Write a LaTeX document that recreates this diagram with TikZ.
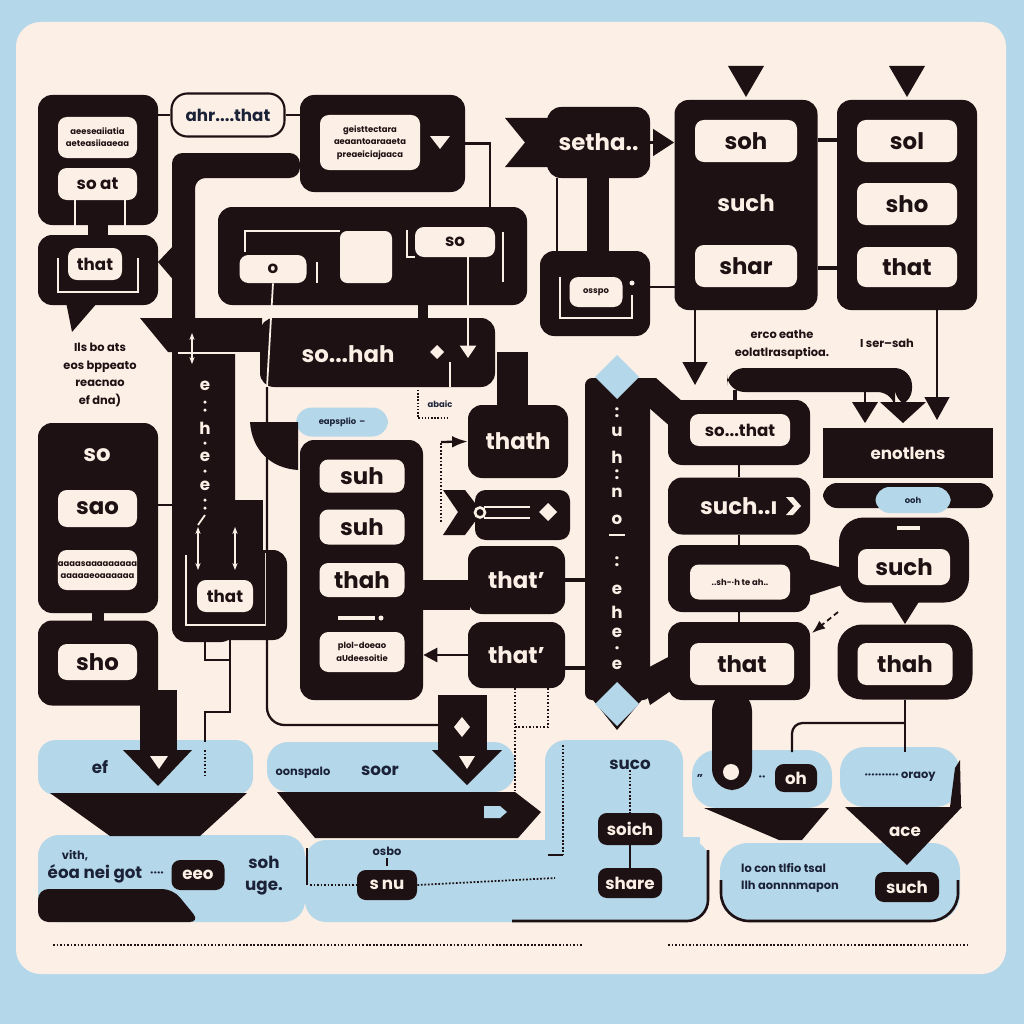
\documentclass[tikz,border=0pt]{standalone}
\usepackage{fontspec}
\setmainfont{Poppins}
\usetikzlibrary{arrows.meta,positioning,calc}
\definecolor{ink}{HTML}{1E1113}
\definecolor{paper}{HTML}{FCEFE6}
\definecolor{sky}{HTML}{B4D7E9}
\definecolor{navy}{HTML}{1B2238}
\newcommand\labbig{\bfseries\fontsize{13}{15}\selectfont}
\newcommand\labmid{\bfseries\fontsize{9.5}{11}\selectfont}
\newcommand\labsmall{\bfseries\fontsize{6.5}{10}\selectfont}
\newcommand\labtiny{\bfseries\fontsize{4.8}{7}\selectfont}

\begin{document}
\begin{tikzpicture}[x=0.02cm,y=-0.02cm,>=Latex,
    sz/.style 2 args={minimum width=#1*0.02cm,minimum height=#2*0.02cm},
    dbox/.style={fill=ink,rounded corners=8pt,inner sep=0pt},
    wbox/.style={fill=paper,rounded corners=5pt,inner sep=0pt,text=ink,font=\labbig},
    dpill/.style={fill=ink,rounded corners=5pt,inner sep=0pt,text=paper,font=\labmid},
    wire/.style={ink,line width=1.3pt},
    cwire/.style={paper,line width=1pt},
    dots/.style={ink,densely dotted,line width=1pt},
    btxt/.style={text=navy,font=\labsmall,inner sep=0pt}]
  \useasboundingbox (0,0) rectangle (1024,1024);
  % background
  \fill[sky] (0,0) rectangle (1024,1024);
  \fill[paper,rounded corners=14pt] (16,22) rectangle (1006,974);

  % blue panels (bottom)
  \fill[sky,rounded corners=10pt] (38,740) rectangle (253,795);
  \fill[sky,rounded corners=12pt] (38,835) rectangle (305,922);
  \fill[sky,rounded corners=12pt] (267,742) rectangle (515,792);
  \fill[sky,rounded corners=12pt] (305,840) rectangle (709,922);
  \fill[sky,rounded corners=12pt] (545,740) rectangle (683,922);
  \fill[sky] (545,837) rectangle (700,900);
  \fill[sky,rounded corners=14pt] (692,750) rectangle (832,808);
  \fill[sky,rounded corners=14pt] (840,747) rectangle (960,807);
  \fill[sky,rounded corners=16pt] (720,843) rectangle (960,922);
  \draw[ink,line width=1.5pt,rounded corners=12pt] (512,921) -- (708,921) -- (708,850);
  \draw[ink,line width=1.5pt,rounded corners=16pt] (721,880) -- (721,921) -- (958,921) -- (958,880);

  % top left group
  \node[dbox,sz={120}{130}] (boxA) at (98,160) {};
  \node[wbox,sz={79}{41},font=\labtiny,align=center] (noteA) at (97.5,137.5) {aeeseaiiatia\\aeteasiiaaeaa};
  \node[wbox,sz={79}{32},font=\labmid] (soAt) at (97.5,184) {so at};
  \fill[ink] (88,220) rectangle (108,240);
  \node[dbox,sz={120}{70}] (boxB) at (98,270) {};
  \node[wbox,sz={54}{32},font=\labmid] (thatB) at (95,264) {that};
  \draw[cwire] (58,258) -- (58,292) -- (138,292) -- (138,258);
  \draw[cwire] (75,200) -- (75,226);
  \draw[cwire] (125,200) -- (125,226);
  \fill[ink] (66,302) -- (98,302) -- (72,332) -- cycle;
  \fill[ink] (158,262) -- (176,243) -- (176,283) -- cycle;
  \node[font=\labsmall,align=center,text=ink] (capLeft) at (100,375) {Ils bo ats\\eos bppeato\\reacnao\\ef dna)};

  \node[draw=ink,line width=1.2pt,fill=paper,rounded corners=9pt,sz={113}{43},text=navy,font=\labmid] (ahrThat) at (228,115) {ahr....that};
  \node[dbox,sz={165}{97}] (boxC) at (382.5,143.5) {};
  \node[wbox,sz={100}{55},font=\labtiny,align=center] (noteC) at (370,142.5) {geisttectara\\aeaantoaraaeta\\preaeiciajaaca};
  \fill[paper] (430,136) -- (450,136) -- (440,149) -- cycle;
  \draw[wire] (ahrThat.west) -- (ahrThat.west -| boxA.east);
  \draw[wire] (ahrThat.east) -- (ahrThat.east -| boxC.west);
  \draw[wire] (boxC.east) -- (490,143.5) -- (490,210);

  % thick band and left column
  \fill[ink,rounded corners=6pt] (300,153) -- (172,153) -- (172,330) -- (195,330) -- (195,178) -- (300,178) -- cycle;
  \fill[ink] (140,318) -- (262,318) -- (262,352) -- (168,352) -- cycle;
  \node[dbox,sz={63}{322}] (colE) at (203.5,481) {};
  \fill[ink,rounded corners=8pt] (172,550) rectangle (287,640);
  \fill[ink] (235,500) rectangle (263,560);
  \draw[cwire] (178,353) -- (262,353);
  \foreach \ch/\yy in {e/386,h/428,e/457,e/486}
    \node[text=paper,font=\labmid,inner sep=0pt] at (205,\yy) {\ch};
  \foreach \yy in {402,410,443,471,500,508}
    \fill[paper] (205,\yy) circle[radius=0.035cm];
  \draw[cwire,<->,>={Stealth[length=4pt]}] (192,333) -- (192,364);
  \draw[cwire] (205,515) -- (198,525);
  \draw[cwire,<->,>={Stealth[length=4pt]}] (198,527) -- (198,570);
  \draw[cwire,<->,>={Stealth[length=4pt]}] (235,527) -- (235,570);
  \node[wbox,sz={56}{32},font=\labmid] (thatE) at (225,596) {that};
  \draw[cwire] (186,555) -- (186,625) -- (266,625) -- (266,553);
  \draw[wire] (205,640) -- (205,660) -- (230,660);
  \draw[wire] (230,640) -- (230,712) -- (205,712) -- (205,742);
  \draw[dots] (205,750) -- (205,778);

  % left middle group
  \node[dbox,sz={120}{190}] (boxD) at (98,518) {};
  \node[text=paper,font=\labbig,inner sep=0pt] (soD) at (97,455) {so};
  \node[wbox,sz={79}{37}] (saoD) at (97.5,508.5) {sao};
  \node[wbox,sz={79}{40},font=\labtiny,align=center] (noteD) at (97.5,570) {aaaasaaaaaaaaa\\aaaaaeoaaaaaa};
  \draw[wire] (158,505) -- (172,505);
  \fill[ink] (92,610) rectangle (104,625);
  \node[dbox,sz={120}{85}] (boxE) at (98,663) {};
  \node[wbox,sz={79}{36}] (shoE) at (97.5,662) {sho};
  \fill[ink] (140,690) rectangle (177,752);
  \fill[ink] (123,750) -- (192,750) -- (158,786) -- cycle;
  \fill[paper] (150,756) -- (168,756) -- (159,769) -- cycle;
  \node[btxt,font=\labmid] (efTxt) at (100,767) {ef};
  \fill[ink] (50,793) -- (247,793) -- (200,836) -- (110,836) -- cycle;
  \fill[ink,rounded corners=6pt] (38,889) -- (173,889) -- (200,922) -- (38,922) -- cycle;
  \node[btxt] (vith) at (75,856) {vith,};
  \node[btxt,font=\labmid] (eoaGot) at (95,874) {éoa nei got};
  \node[btxt] (dotsA) at (157,874) {····};
  \node[dpill,sz={53}{30}] (eeoPill) at (198,875) {eeo};
  \node[btxt,font=\labmid] (sohB) at (264,862) {soh};
  \node[btxt,font=\labmid] (ugeB) at (264,888) {uge.};

  % centre frame
  \node[dbox,sz={309}{98}] (frameF) at (372.5,256) {};
  \fill[paper,rounded corners=4pt] (340,231) rectangle (392,283);
  \draw[cwire] (245,252) -- (245,231) -- (340,231);
  \draw[cwire] (407,230) -- (407,257) -- (415,257);
  \draw[cwire] (503,232) -- (503,282);
  \node[wbox,sz={67}{28},font=\labmid] (oBox) at (273,269) {o};
  \draw[cwire] (317,262) -- (317,283);
  \node[wbox,sz={80}{30},font=\labmid] (soBox) at (455,242) {so};
  \fill[ink] (418,303) rectangle (428,320);
  \fill[ink,rounded corners=8pt] (260,318) rectangle (495,387);
  \fill[ink] (497,352) rectangle (528,410);
  \node[text=paper,font=\labbig,inner sep=0pt] (soHah) at (348,354) {so...hah};
  \fill[paper] (437,345) -- (444,352) -- (437,359) -- (430,352) -- cycle;
  \draw[cwire,line width=1.5pt,-{Triangle[length=7pt,width=9pt]}] (soBox.south -| 468,0) -- (468,358);
  \draw[cwire] (oBox.south) -- (267,387);
  \draw[wire,rounded corners=10pt] (267,387) -- (267,725) -- (438,725);
  \draw[cwire] (450,362) -- (450,387);
  \draw[dots,line width=0.8pt] (418,390) -- (418,418) -- (450,418);
  \node[btxt,font=\labtiny] (abaic) at (440,404) {abaic};

  \node[fill=sky,rounded corners=9pt,sz={92}{29},text=navy,font=\labtiny] (eapPill) at (342,422) {eapsplio \,–};
  \fill[ink] (250,422) -- (298,422) -- (298,470) .. controls (270,468) and (252,450) .. (250,422) -- cycle;

  % box G
  \node[dbox,sz={123}{260}] (boxG) at (361.5,570) {};
  \node[wbox,sz={85}{33}] (suhA) at (362,476) {suh};
  \node[wbox,sz={85}{35}] (suhB) at (362,527) {suh};
  \node[wbox,sz={85}{34}] (thahG) at (362,580) {thah};
  \draw[paper,line width=2pt] (338,618) -- (375,618);
  \fill[paper] (381,618) circle[radius=0.05cm];
  \node[wbox,sz={85}{40},font=\labtiny,align=center] (noteG) at (362,652) {plol-doeao\\aUdeesoitie};
  \fill[ink] (420,580) rectangle (470,610);

  % boxes right of G
  \node[dbox,sz={100}{73},text=paper,font=\labbig] (thath) at (518,441.5) {thath};
  \draw[dots] (441,522) -- (441,442);
  \draw[wire,->] (441,442) -- (thath.west);
  \fill[ink] (443,490) -- (465,490) -- (482,512) -- (465,535) -- (443,535) -- (458,512) -- cycle;
  \fill[ink,rounded corners=6pt] (475,490) rectangle (570,540);
  \draw[cwire,line width=1.5pt] (484,507) -- (530,507);
  \draw[cwire,line width=1.5pt] (484,518) -- (530,518);
  \draw[paper,line width=1.5pt] (480,512.5) circle[radius=0.1cm];
  \fill[paper] (548,503) -- (557,512) -- (548,521) -- (539,512) -- cycle;
  \node[dbox,sz={97}{68},text=paper,font=\labbig] (thatP1) at (516.5,580) {that’};
  \node[dbox,sz={97}{66},text=paper,font=\labbig] (thatP2) at (516.5,655) {that’};
  \draw[wire,line width=1.5pt,-{Triangle[length=8pt,width=8pt]}] (thatP2.west) -- (thatP2.west -| boxG.east);
  \draw[dots] (515,688) -- (515,790);
  \draw[dots] (548,688) -- (548,727) -- (515,727);

  % centre bottom
  \node[btxt] (oonspalo) at (303,773) {oonspalo};
  \node[btxt,font=\labmid] (soor) at (380,771) {soor};
  \fill[ink] (438,695) rectangle (487,752);
  \fill[ink] (432,750) -- (502,750) -- (467,785) -- cycle;
  \fill[paper] (462,717) -- (470,727) -- (462,737) -- (454,727) -- cycle;
  \fill[paper] (459,756) -- (475,756) -- (467,769) -- cycle;
  \fill[ink] (277,792) -- (515,792) -- (541,812) -- (518,838) -- (315,838) -- cycle;
  \fill[sky] (484,806) -- (500,806) -- (507,812) -- (500,818) -- (484,818) -- cycle;
  \node[btxt] (osbo) at (387,851) {osbo};
  \draw[wire,line width=1pt] (387,858) -- (387,866);
  \node[dpill,sz={60}{30}] (snuPill) at (387,885) {s\,nu};
  \draw[wire,line width=1pt] (307,848) -- (307,885);
  \draw[dots] (310,885) -- (snuPill.west);
  \draw[dots] (snuPill.east) -- (555,878);
  \draw[dots] (563,745) -- (563,855);
  \draw[wire,line width=1pt] (563,855) -- (548,855);
  \node[btxt,font=\labmid] (suco) at (630,765) {suco};
  \node[dpill,sz={64}{32}] (soich) at (630,829) {soich};
  \node[dpill,sz={64}{30}] (share) at (630,883) {share};
  \draw[dots] (suco.south) -- (soich.north);
  \draw[wire,line width=1pt] (soich.south) -- (share.north);

  % long column
  \node[dbox,sz={65}{322},rounded corners=4pt] (colUh) at (617.5,539) {};
  \fill[ink] (585,690) -- (650,690) -- (617,730) -- cycle;
  \fill[sky] (617,355) -- (639,377) -- (617,399) -- (595,377) -- cycle;
  \fill[sky] (617,682) -- (639,704) -- (617,726) -- (595,704) -- cycle;
  \fill[ink] (640,378) -- (656,378) -- (692,410) -- (672,428) -- (640,400) -- cycle;
  \fill[ink] (640,672) -- (672,655) -- (672,690) -- (650,705) -- cycle;
  \foreach \ch/\yy in {:/413,u/432,h/457,:/475,n/493,o/520,:/562,e/590,h/612,e/633,·/650,e/665}
    \node[text=paper,font=\labmid,inner sep=0pt] at (617,\yy) {\ch};
  \draw[paper,line width=1.5pt] (609,535) -- (625,535);
  \draw[wire,line width=2pt] (thatP1.east) -- (thatP1.east -| colUh.west);
  \draw[wire,line width=2pt] (thatP2.east |- 0,668) -- (585,668);

  % right centre column
  \node[dbox,sz={142}{65}] (soThatBox) at (739,432.5) {};
  \node[wbox,sz={100}{32},font=\labmid] (soThat) at (740,430) {so...that};
  \node[dbox,sz={142}{57},text=paper,font=\labbig] (suchIt) at (739,506) {such..ı\hspace{12pt}};
  \fill[paper] (786,497) -- (793,497) -- (801,506) -- (793,515) -- (786,515) -- (794,506) -- cycle;
  \node[dbox,sz={142}{67}] (shBox) at (739,578.5) {};
  \node[wbox,sz={100}{35},font=\labtiny] (shTxt) at (740,582) {..sh-·h te ah..};
  \fill[ink] (805,558) -- (842,568) -- (842,585) -- (805,597) -- cycle;
  \node[dbox,sz={142}{78}] (thatBoxR) at (739,661) {};
  \node[wbox,sz={104}{42}] (thatR) at (742,664) {that};
  \draw[wire,line width=1.5pt] (soThatBox.south) -- (suchIt.north);
  \draw[wire,line width=1.5pt] (suchIt.south) -- (shBox.north);
  \draw[wire,line width=1.5pt] (shBox.south) -- (thatBoxR.north);
  \fill[ink,rounded corners=12pt] (712,690) rectangle (752,790);
  \fill[paper] (731,772) circle[radius=0.16cm];
  \draw[ink,densely dashed,line width=1pt,->] (838,612) -- (812,633);

  % bottom right
  \node[btxt] (quoteA) at (700,778) {''};
  \node[btxt] (dotsB) at (762,778) {··};
  \node[dpill,sz={42}{28}] (ohPill) at (796,778) {oh};
  \fill[ink] (704,808) -- (829,808) -- (802,840) -- (779,840) -- cycle;
  \fill[ink] (955,768) -- (960,760) -- (961,807) -- (950,807) -- cycle;
  \node[btxt] (oraoy) at (900,777) {··········\ oraoy};
  \fill[ink] (845,807) -- (962,807) -- (907,865) -- cycle;
  \node[text=paper,font=\labmid,inner sep=0pt] (aceTxt) at (905,832) {ace};
  \node[btxt,align=left] (conTxt) at (790,878) {lo con tlfio tsal\\llh aonnnmapon};
  \node[dpill,sz={64}{30}] (suchPill) at (907,887) {such};

  % top right
  \fill[ink] (505,118) -- (550,118) -- (550,167) -- (505,167) -- (525,142.5) -- cycle;
  \node[dbox,sz={103}{71},text=paper,font=\labbig] (setha) at (598.5,142.5) {setha..};
  \fill[ink] (587,175) rectangle (609,255);
  \draw[wire,line width=1.5pt] (557,178) -- (557,252);
  \node[dbox,sz={110}{85}] (ospoBox) at (595,293.5) {};
  \node[wbox,sz={53}{30},font=\labtiny] (ospo) at (596,292) {osspo};
  \draw[cwire] (560,277) -- (560,318) -- (632,318) -- (632,295);
  \fill[paper] (632,283) circle[radius=0.05cm];
  \node[dbox,sz={143}{210}] (boxH) at (746,205) {};
  \node[wbox,sz={102}{42}] (sohH) at (746,141) {soh};
  \node[text=paper,font=\labbig,inner sep=0pt] (suchH) at (746,203) {such};
  \node[wbox,sz={102}{42}] (sharH) at (746,266) {shar};
  \node[dbox,sz={140}{210}] (boxI) at (907,205) {};
  \node[wbox,sz={100}{42}] (solI) at (907,141) {sol};
  \node[wbox,sz={100}{42}] (shoI) at (907,204) {sho};
  \node[wbox,sz={100}{40}] (thatI) at (907,267) {that};
  \draw[ink,line width=2pt,-{Triangle[length=12pt,width=15pt]}] (setha.east) -- (setha.east -| boxH.west);
  \draw[wire,line width=1.5pt] (650,287) -- (675,287);
  \draw[wire,line width=2pt] (818,140) -- (837,140);
  \draw[wire,line width=2pt] (818,268) -- (837,268);
  \fill[ink] (728,66) -- (764,66) -- (746,97) -- cycle;
  \fill[ink] (889,66) -- (925,66) -- (907,97) -- cycle;
  \draw[wire,line width=1.2pt,-{Triangle[length=13pt,width=14pt]}] (695,310) -- (695,385);
  \draw[wire,line width=1.2pt,-{Triangle[length=13pt,width=14pt]}] (937,310) -- (937,420);
  \fill[ink,rounded corners=10pt] (727,368) -- (912,368) -- (912,406) -- (895,406) -- (895,392) -- (727,392) -- cycle;
  \fill[ink] (880,402) -- (926,402) -- (903,423) -- cycle;
  \draw[wire,line width=1.5pt] (865,392) -- (865,405);
  \fill[ink] (852,402) -- (878,402) -- (865,423) -- cycle;
  \draw[wire,line width=2pt] (735,390) -- (735,402);
  \node[text=ink,font=\labsmall,align=center] (eathe) at (782,345) {erco eathe\\eolatlrasaptioa.};
  \node[text=ink,font=\labsmall] (sersah) at (887,343) {I ser–sah};

  \node[fill=ink,inner sep=0pt,sz={170}{50},text=paper,font=\labmid] (enotlens) at (908,453) {enotlens};
  \fill[ink,rounded corners=8pt] (823,483) rectangle (993,508);
  \node[fill=sky,rounded corners=8pt,inner sep=0pt,sz={75}{26},text=navy,font=\labtiny] (oohPill) at (913,500) {ooh};
  \node[dbox,sz={130}{85},rounded corners=14pt] (suchRBox) at (904,560) {};
  \node[wbox,sz={92}{36}] (suchR) at (904,567) {such};
  \draw[paper,line width=2pt] (897,528) -- (920,528);
  \fill[ink] (890,600) -- (920,600) -- (905,624) -- cycle;
  \node[dbox,sz={135}{75},rounded corners=14pt] (thahRBox) at (905,662) {};
  \node[wbox,sz={95}{42}] (thahR) at (905,664) {thah};
  \draw[wire,rounded corners=6pt] (thahRBox.south) -- (905,752);
  \draw[wire,rounded corners=6pt] (905,723) -- (792,723) -- (792,752);

  % footer rules
  \draw[ink,line width=1.5pt,dash pattern=on 1pt off 1pt] (53,945) -- (583,945);
  \draw[ink,line width=1.5pt,dash pattern=on 1pt off 1pt] (668,945) -- (967,945);
\end{tikzpicture}
\end{document}
